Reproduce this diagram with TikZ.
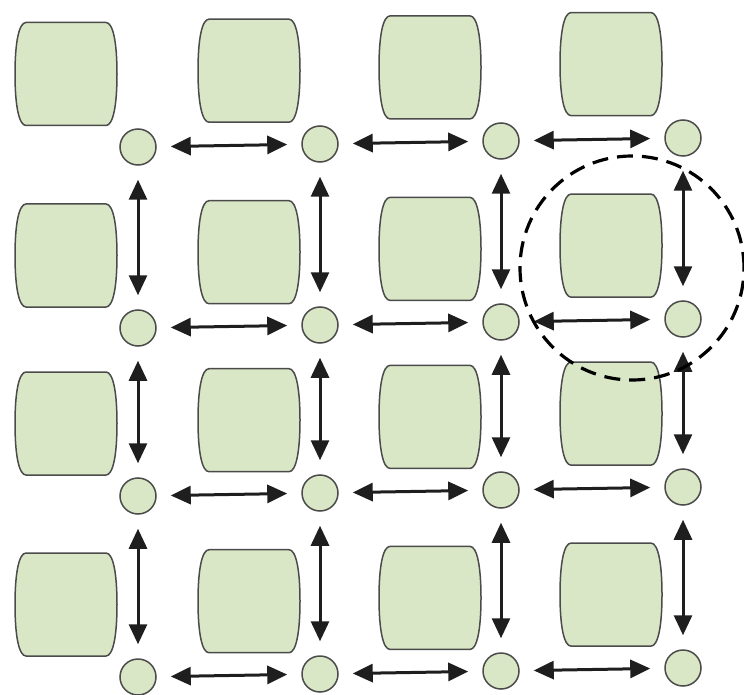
\documentclass[tikz,border=0pt]{standalone}
\usetikzlibrary{arrows.meta}
\definecolor{cellfill}{RGB}{217,231,198}
\definecolor{cellline}{RGB}{75,75,75}
\definecolor{arrowc}{RGB}{30,30,30}
\tikzset{
  router/.style={circle,draw=cellline,fill=cellfill,line width=1.5pt,minimum size=36pt,inner sep=0pt},
  link/.style={draw=arrowc,line width=3pt,
    {Triangle[length=20pt,width=18pt]}-{Triangle[length=20pt,width=18pt]},
    shorten <=14pt,shorten >=14pt},
  region/.style={circle,draw=black,line width=3.2pt,dash pattern=on 16pt off 9pt,minimum size=224pt,inner sep=0pt},
  pics/core/.style={code={
    \path[draw=cellline,fill=cellfill,line width=1.5pt]
      (-40,-51.5) -- (40,-51.5)
      .. controls (47,-51.5) and (51,-32) .. (51,0)
      .. controls (51,32) and (47,51.5) .. (40,51.5)
      -- (-40,51.5)
      .. controls (-47,51.5) and (-51,32) .. (-51,0)
      .. controls (-51,-32) and (-47,-51.5) .. (-40,-51.5) -- cycle;
  }},
}
\begin{document}
\begin{tikzpicture}[x=1pt,y=-1pt]
\useasboundingbox (0,0) rectangle (744,695);
% processing cores
\foreach \c/\x in {0/66,1/249,2/430,3/611}
  \foreach \r/\y in {0/74,1/255.5,2/423.5,3/604.5}
    \pic at (\x,{\y-3.3*\c}) {core};
% routers
\foreach \c/\x in {0/138,1/320,2/501,3/683}
  \foreach \r/\y in {0/147,1/328,2/496,3/677}
    \node[router] (n\r\c) at (\x,{\y-3*\c}) {};
% horizontal links
\foreach \r in {0,1,2,3}
  \foreach \c/\d in {0/1,1/2,2/3}
    \draw[link] (n\r\c) -- (n\r\d);
% vertical links
\foreach \c in {0,1,2,3}
  \foreach \r/\s in {0/1,1/2,2/3}
    \draw[link] (n\r\c) -- (n\s\c);
% highlighted tile
\node[region] (tile) at (632,268) {};
\end{tikzpicture}
\end{document}
